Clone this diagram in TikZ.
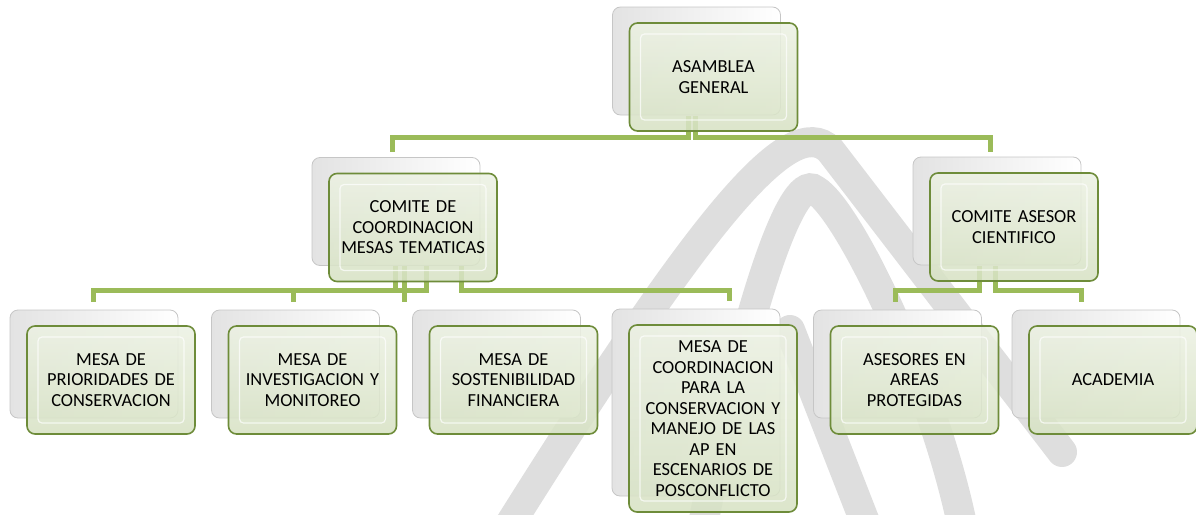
\documentclass[tikz,border=0pt]{standalone}
\usepackage{fontspec}
\setmainfont{Carlito}
\usetikzlibrary{positioning}
\definecolor{verde}{HTML}{9BBB59}
\definecolor{verdeosc}{HTML}{6E8C3A}
\definecolor{verdearr}{HTML}{ECF1E3}
\definecolor{verdeab}{HTML}{D7E2C4}
\definecolor{marca}{HTML}{DEDEDE}
\newcommand{\boxw}{168pt}
\newcommand{\boxh}{108pt}
\pgfdeclarelayer{marca}
\pgfdeclarelayer{fondo}
\pgfsetlayers{marca,fondo,main}
% caja: nombre, x, y, alto, texto
\newcommand{\caja}[5]{%
  \begin{pgfonlayer}{fondo}
    \node[back, minimum height=#4, xshift=-17pt, yshift=16pt] (#1-b) at (#2,#3) {};
  \end{pgfonlayer}
  \node[front, minimum height=#4] (#1) at (#2,#3) {#5};}

\begin{document}
\begin{tikzpicture}[x=1pt, y=-1pt,
    back/.style={draw=gray!45, line width=0.8pt, rounded corners=8pt,
      minimum width=\boxw, left color=gray!22, right color=white},
    front/.style={draw=verdeosc, line width=1.6pt, rounded corners=8pt,
      minimum width=\boxw, top color=verdearr, bottom color=verdeab,
      fill opacity=0.88, text opacity=1, inner sep=0pt, text width=160pt,
      align=center, font=\fontsize{18.4}{20.5}\selectfont,
      path picture={\draw[white, line width=1.2pt, opacity=.7, rounded corners=4pt]
        ([shift={(11pt,11pt)}]path picture bounding box.south west) rectangle
        ([shift={(-11pt,-11pt)}]path picture bounding box.north east);}},
    conn/.style={draw=verde, line width=5pt},
    wm/.style={draw=marca, line width=30pt, line cap=round}]
  %\draw[help lines] (0,0) grid[step=50] (1196,514);
  \useasboundingbox (0,0) rectangle (1196,514);
  \begin{pgfonlayer}{marca}
    \draw[wm] (500,540) .. controls (700,220) and (790,110) .. (830,150) -- (1062,452);
    \draw[wm] (700,540) .. controls (740,330) and (790,170) .. (815,190)
      .. controls (850,210) and (940,400) .. (965,540);
    \draw[wm] (790,330) -- (872,540);
  \end{pgfonlayer}

  \caja{ag}{713.5}{77}{\boxh}{ASAMBLEA\\GENERAL}
  \caja{ccm}{413}{227.5}{\boxh}{COMITE DE\\COORDINACION\\MESAS TEMATICAS}
  \caja{cac}{1014}{227}{\boxh}{COMITE ASESOR\\CIENTIFICO}
  \caja{m1}{111}{380}{\boxh}{MESA DE\\PRIORIDADES DE\\CONSERVACION}
  \caja{m2}{312.5}{380}{\boxh}{MESA DE\\INVESTIGACION Y\\MONITOREO}
  \caja{m3}{513.5}{380}{\boxh}{MESA DE\\SOSTENIBILIDAD\\FINANCIERA}
  \caja{m4}{713}{418.5}{187pt}{MESA DE\\COORDINACION\\PARA LA\\CONSERVACION Y\\MANEJO DE LAS\\AP EN\\ESCENARIOS DE\\POSCONFLICTO}
  \caja{ase}{914.5}{380}{\boxh}{ASESORES EN\\AREAS\\PROTEGIDAS}
  \caja{aca}{1113}{380}{\boxh}{ACADEMIA}

  \begin{pgfonlayer}{fondo}
    \draw[conn] ([xshift=-25.5pt,yshift=16pt]ag.south) -- ++(0pt,-22pt) -| ([xshift=-4pt,yshift=5pt]ccm-b.north);
    \draw[conn] ([xshift=-18.5pt,yshift=16pt]ag.south) -- ++(0pt,-22pt) -| ([xshift=-7pt,yshift=5pt]cac-b.north);
    %
    \draw[conn] ([xshift=-18pt,yshift=16pt]ccm.south) -- ++(0pt,-24.5pt) -| ([xshift=-1pt,yshift=8pt]m1-b.north);
    \draw[conn] ([xshift=13pt,yshift=16pt]ccm.south) -- ++(0pt,-24.5pt) -| ([xshift=-2.5pt,yshift=8pt]m2-b.north);
    \draw[conn] ([xshift=-9pt,yshift=16pt]ccm.south) -- ++(0pt,-24.5pt) -| ([xshift=-92.5pt,yshift=8pt]m3-b.north);
    \draw[conn] ([xshift=48pt,yshift=16pt]ccm.south) -- ++(0pt,-24.5pt) -| ([xshift=33pt,yshift=8pt]m4-b.north);
    %
    \draw[conn] ([xshift=-35pt,yshift=16pt]cac.south) -- ++(0pt,-25pt) -| ([xshift=-2.5pt,yshift=8pt]ase-b.north);
    \draw[conn] ([xshift=-19pt,yshift=16pt]cac.south) -- ++(0pt,-25pt) -| ([xshift=-15pt,yshift=8pt]aca-b.north);
  \end{pgfonlayer}
\end{tikzpicture}
\end{document}
